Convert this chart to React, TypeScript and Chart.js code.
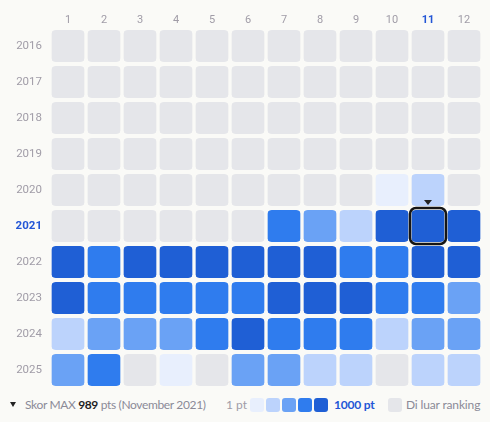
import { useEffect, useRef } from 'react';
import { Chart, registerables } from 'chart.js';

Chart.register(...registerables);

const years = ['2016', '2017', '2018', '2019', '2020', '2021', '2022', '2023', '2024', '2025'];
const months = ['1', '2', '3', '4', '5', '6', '7', '8', '9', '10', '11', '12'];

// ranking level per month (0 = outside ranking, 1 = 1 pt ... 5 = 1000 pt)
const levels2016 = [0, 0, 0, 0, 0, 0, 0, 0, 0, 0, 0, 0];
const levels2017 = [0, 0, 0, 0, 0, 0, 0, 0, 0, 0, 0, 0];
const levels2018 = [0, 0, 0, 0, 0, 0, 0, 0, 0, 0, 0, 0];
const levels2019 = [0, 0, 0, 0, 0, 0, 0, 0, 0, 0, 0, 0];
const levels2020 = [0, 0, 0, 0, 0, 0, 0, 0, 0, 1, 2, 0];
const levels2021 = [0, 0, 0, 0, 0, 0, 4, 3, 2, 5, 5, 5];
const levels2022 = [5, 4, 5, 5, 5, 5, 5, 5, 4, 4, 5, 5];
const levels2023 = [5, 4, 4, 4, 4, 4, 5, 5, 5, 4, 4, 3];
const levels2024 = [2, 3, 3, 3, 4, 5, 4, 4, 4, 2, 3, 3];
const levels2025 = [3, 4, 0, 1, 0, 3, 3, 2, 2, 0, 2, 2];

const levelsByYear = [
  levels2016, levels2017, levels2018, levels2019, levels2020,
  levels2021, levels2022, levels2023, levels2024, levels2025,
];

const highlightYear = '2021';
const highlightMonth = '11';
const maxScore = 989;
const maxLabel = 'November 2021';

const levelColors = ['#e5e6ea', '#e8effd', '#bcd3fc', '#6aa2f5', '#2f7cee', '#1f5fd5'];
const legendLevels = [1, 2, 3, 4, 5];

const BG = '#fafaf7';
const LABEL = '#a09ca7';
const ACCENT = '#2356d6';

export default function App() {
  const ref = useRef<HTMLCanvasElement>(null);

  useEffect(() => {
    document.body.style.margin = '0';
    document.body.style.background = BG;
    const canvas = ref.current;
    if (!canvas) return;

    const highlight = {
      id: 'highlight',
      afterDatasetsDraw(chart: any) {
        const mi = months.indexOf(highlightMonth);
        const yi = years.indexOf(highlightYear);
        const el = chart.getDatasetMeta(mi).data[yi];
        if (!el) return;
        const { x, y, base, height } = el.getProps(['x', 'y', 'base', 'height'], true);
        const l = Math.min(x, base) + 2;
        const r = Math.max(x, base) - 2;
        const t = y - height / 2;
        const b = y + height / 2;
        const ctx = chart.ctx;
        ctx.save();
        ctx.lineWidth = 2.5;
        ctx.strokeStyle = '#151515';
        ctx.beginPath();
        ctx.roundRect(l - 2, t - 2, r - l + 4, b - t + 4, 6);
        ctx.stroke();
        const cx = (l + r) / 2;
        ctx.fillStyle = '#222';
        ctx.beginPath();
        ctx.moveTo(cx - 4, t - 10);
        ctx.lineTo(cx + 4, t - 10);
        ctx.lineTo(cx, t - 5);
        ctx.closePath();
        ctx.fill();
        ctx.restore();
      },
    };

    const datasets = months.map((m, mi) => ({
      label: m,
      data: years.map(() => 1),
      backgroundColor: levelsByYear.map((row) => levelColors[row[mi]]),
      borderColor: 'rgba(0,0,0,0)',
      borderWidth: { left: 2, right: 2, top: 0, bottom: 0 },
      borderSkipped: false,
      borderRadius: { topLeft: 6, topRight: 6, bottomLeft: 6, bottomRight: 6 },
      barThickness: 32,
      xAxisID: 'x',
      yAxisID: 'y',
    }));

    const chart = new Chart(canvas, {
      type: 'bar',
      data: { labels: years, datasets },
      options: {
        indexAxis: 'y',
        responsive: false,
        animation: false,
        events: [],
        layout: { padding: { left: 0, top: 0, right: 8, bottom: 4 } },
        plugins: { legend: { display: false }, tooltip: { enabled: false } },
        scales: {
          x: {
            type: 'linear',
            stacked: true,
            min: 0,
            max: months.length,
            display: false,
          },
          x2: {
            type: 'category',
            axis: 'x',
            position: 'top',
            labels: months,
            offset: true,
            grid: { display: false, drawTicks: false },
            border: { display: false },
            ticks: {
              padding: 1,
              color: (c: any) => (c.tick && c.tick.label === highlightMonth ? ACCENT : LABEL),
              font: (c: any) => ({
                family: 'Roboto',
                size: 11,
                weight: c.tick && c.tick.label === highlightMonth ? 'bold' : 'normal',
              }),
            },
            afterFit: (s: any) => {
              s.height = 28;
              s.paddingLeft = 0;
              s.paddingRight = 0;
            },
          },
          y: {
            type: 'category',
            stacked: true,
            offset: true,
            grid: { display: false, drawTicks: false },
            border: { display: false },
            ticks: {
              padding: 8,
              color: (c: any) => (c.tick && c.tick.label === highlightYear ? ACCENT : LABEL),
              font: (c: any) => ({
                family: 'Roboto',
                size: 11.5,
                weight: c.tick && c.tick.label === highlightYear ? 'bold' : 'normal',
              }),
            },
            afterFit: (s: any) => {
              s.width = 50;
              s.paddingTop = 0;
              s.paddingBottom = 0;
            },
          },
        } as any,
      },
      plugins: [highlight],
    } as any);

    return () => chart.destroy();
  }, []);

  const txt: any = { position: 'absolute', top: 397, lineHeight: '16px', whiteSpace: 'nowrap' };
  const sq = (left: number, color: string): any => ({
    position: 'absolute', left, top: 398, width: 14, height: 14, borderRadius: 3, background: color,
  });

  return (
    <div style={{ position: 'relative', width: 490, height: 422, background: BG, fontFamily: 'Lato', fontSize: 12 }}>
      <canvas ref={ref} width={490} height={392} style={{ display: 'block', width: 490, height: 392 }} />
      <div style={{ position: 'absolute', left: 10, top: 402, width: 0, height: 0, borderLeft: '3px solid transparent', borderRight: '3px solid transparent', borderTop: '5px solid #222' }} />
      <span style={{ ...txt, left: 25, color: '#8b8a97', letterSpacing: '-0.35px' }}>
        Skor MAX <b style={{ color: '#1e1e24' }}>{maxScore}</b> pts ({maxLabel})
      </span>
      <span style={{ ...txt, left: 226, color: '#a09ca7' }}>1 pt</span>
      {legendLevels.map((lv, i) => (
        <div key={lv} style={sq(250 + i * 16, levelColors[lv])} />
      ))}
      <span style={{ ...txt, left: 334, color: ACCENT, fontWeight: 'bold', letterSpacing: '-0.2px' }}>1000 pt</span>
      <div style={sq(388, levelColors[0])} />
      <span style={{ ...txt, left: 406, color: '#8b8a97', letterSpacing: '-0.15px' }}>Di luar ranking</span>
    </div>
  );
}
